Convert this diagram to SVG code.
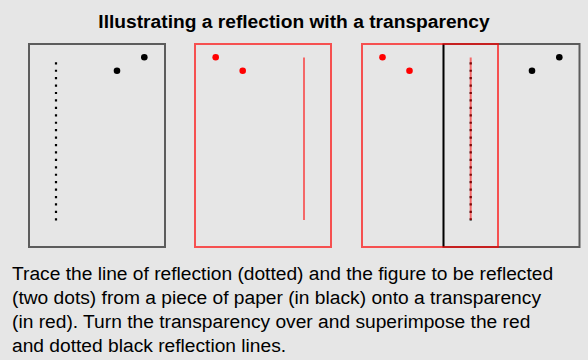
<svg xmlns="http://www.w3.org/2000/svg" width="588" height="360" viewBox="0 0 588 360">
<style>
.paper{fill:none;stroke:#000;stroke-opacity:0.6;stroke-width:2}
.transp{fill:none;stroke:#f00;stroke-opacity:0.65;stroke-width:2}
.bdot{fill:#000}
.rdot{fill:#f00}
.dotted{stroke:#000;stroke-width:2.2;stroke-dasharray:2.2 5.23}
.rline{stroke:#f00;stroke-opacity:0.55;stroke-width:2}
.title{font-family:"Liberation Sans",Arial,sans-serif;font-weight:bold;font-size:19.2px;fill:#000}
.body{font-family:"Liberation Sans",Arial,sans-serif;font-size:19.2px;fill:#000}
</style>
<rect x="0" y="0" width="588" height="360" fill="#e6e6e6"/>
<text class="title" x="294" y="28" text-anchor="middle">Illustrating a reflection with a transparency</text>
<g id="paper1">
<rect class="paper" x="29" y="44" width="136" height="203"/>
<line class="dotted" x1="56" y1="62.2" x2="56" y2="221"/>
<circle class="bdot" cx="144.3" cy="57.3" r="3.3"/>
<circle class="bdot" cx="117" cy="70.7" r="3.3"/>
</g>
<g id="transparency1">
<rect class="transp" x="195" y="44" width="136" height="203"/>
<line class="rline" x1="304" y1="57.5" x2="304" y2="220"/>
<circle class="rdot" cx="215.7" cy="57.3" r="3.3"/>
<circle class="rdot" cx="242.7" cy="70.7" r="3.3"/>
</g>
<g id="superimposed">
<rect class="paper" x="443.5" y="44" width="136" height="203"/>
<line x1="443.5" y1="44" x2="443.5" y2="247" stroke="#000" stroke-width="1.6"/>
<line class="dotted" x1="470.7" y1="62.2" x2="470.7" y2="221"/>
<circle class="bdot" cx="559.3" cy="57.3" r="3.3"/>
<circle class="bdot" cx="532" cy="70.7" r="3.3"/>
<rect class="transp" x="362" y="44" width="136" height="203"/>
<line class="rline" x1="470.7" y1="57.5" x2="470.7" y2="220"/>
<circle class="rdot" cx="382.5" cy="57.3" r="3.3"/>
<circle class="rdot" cx="409.5" cy="70.7" r="3.3"/>
</g>
<g id="caption">
<text class="body" x="12" y="280">Trace the line of reflection (dotted) and the figure to be reflected</text>
<text class="body" x="12" y="304">(two dots) from a piece of paper (in black) onto a transparency</text>
<text class="body" x="12" y="328">(in red). Turn the transparency over and superimpose the red</text>
<text class="body" x="12" y="352">and dotted black reflection lines.</text>
</g>
</svg>
